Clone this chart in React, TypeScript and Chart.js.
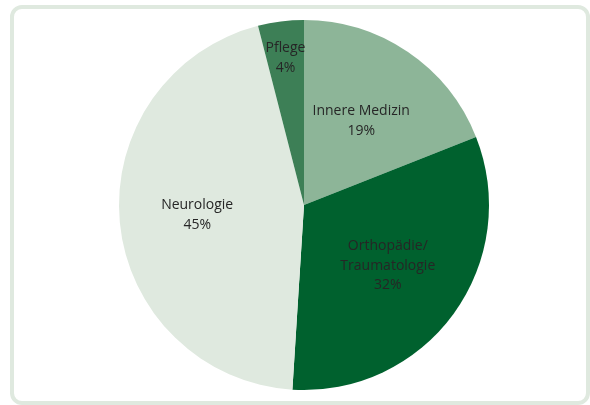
import React, { useEffect, useRef } from "react";
import { Chart, registerables } from "chart.js";

Chart.register(...registerables);

const categories = ["Innere Medizin", "Orthopädie/\nTraumatologie", "Neurologie", "Pflege"];
const values = [19, 32, 45, 4];
const percentLabels = ["19%", "32%", "45%", "4%"];
const colors = ["#8db598", "#00612e", "#dfe9df", "#3d7f56"];
const labelRadius = [0.55, 0.56, 0.58, 0.8];

const labelPlugin = {
  id: "sliceLabels",
  afterDatasetsDraw(chart: any) {
    const ctx = chart.ctx;
    const meta = chart.getDatasetMeta(0);
    ctx.save();
    ctx.font = "14px 'Open Sans', sans-serif";
    ctx.fillStyle = "#262626";
    ctx.textAlign = "center";
    ctx.textBaseline = "middle";
    meta.data.forEach((arc: any, i: number) => {
      const { x, y, startAngle, endAngle, outerRadius } = arc.getProps(
        ["x", "y", "startAngle", "endAngle", "outerRadius"],
        true
      );
      const mid = (startAngle + endAngle) / 2;
      const r = outerRadius * labelRadius[i];
      const cx = x + Math.cos(mid) * r;
      const cy = y + Math.sin(mid) * r;
      const lines = [...categories[i].split("\n"), percentLabels[i]];
      const lh = 19.5;
      const y0 = cy - ((lines.length - 1) * lh) / 2;
      lines.forEach((t, k) => ctx.fillText(t, cx, y0 + k * lh));
    });
    ctx.restore();
  },
};

export default function App() {
  const ref = useRef<HTMLCanvasElement>(null);
  useEffect(() => {
    if (!ref.current) return;
    const chart = new Chart(ref.current, {
      type: "pie",
      data: {
        labels: categories,
        datasets: [
          {
            data: values,
            backgroundColor: colors,
            borderWidth: 0,
          },
        ],
      },
      options: {
        responsive: false,
        animation: false,
        layout: { padding: { left: 119, right: 101, top: 20, bottom: 15 } },
        plugins: {
          legend: { display: false },
          tooltip: { enabled: false },
        },
      },
      plugins: [labelPlugin],
    });
    return () => chart.destroy();
  }, []);
  return (
    <div>
      <div
        style={{
          position: "fixed",
          left: 10,
          top: 5,
          width: 580,
          height: 400,
          boxSizing: "border-box",
          border: "4px solid #dfe9df",
          borderRadius: 12,
          background: "#fff",
        }}
      />
      <canvas
        ref={ref}
        width={590}
        height={405}
        style={{ position: "fixed", left: 0, top: 0 }}
      />
    </div>
  );
}
